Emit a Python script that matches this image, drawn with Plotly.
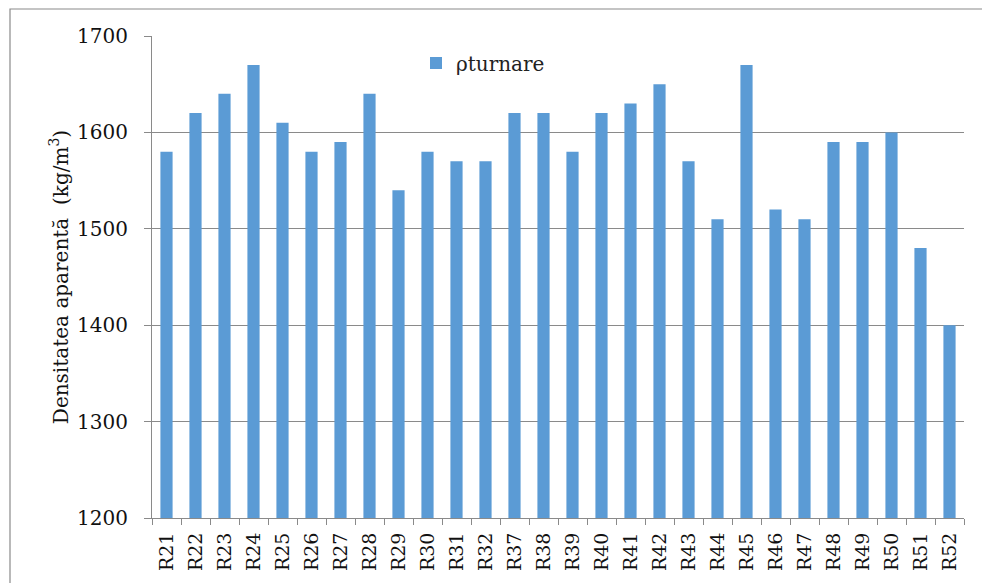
import plotly.graph_objects as go

# Apparent density per sample
samples = ["R21", "R22", "R23", "R24", "R25", "R26", "R27", "R28", "R29", "R30",
           "R31", "R32", "R37", "R38", "R39", "R40", "R41", "R42", "R43", "R44",
           "R45", "R46", "R47", "R48", "R49", "R50", "R51", "R52"]
rho_turnare = [1580, 1620, 1640, 1670, 1610, 1580, 1590, 1640, 1540, 1580,
               1570, 1570, 1620, 1620, 1580, 1620, 1630, 1650, 1570, 1510,
               1670, 1520, 1510, 1590, 1590, 1600, 1480, 1400]
y_ticks = [1200, 1300, 1400, 1500, 1600, 1700]

W, H = 982, 583
L, R, T, B = 152, 18, 36, 65
pw, ph = W - L - R, H - T - B

serif = "DejaVu Serif, serif"

fig = go.Figure(go.Bar(
    x=samples, y=rho_turnare, name="ρturnare",
    marker=dict(color="#5B9BD5", line=dict(width=0)),
    showlegend=True,
))


def px_x(p):
    return (p - L) / pw


def px_y(p):
    return (H - B - p) / ph


# outer chart frame
fig.add_shape(type="rect", xref="paper", yref="paper",
              x0=px_x(10), x1=px_x(990), y0=px_y(595), y1=px_y(9),
              line=dict(color="#8a8a8a", width=1.2), layer="below")

fig.update_layout(
    width=W, height=H,
    margin=dict(l=L, r=R, t=T, b=B),
    paper_bgcolor="white", plot_bgcolor="white",
    bargap=0.58,
    font=dict(family=serif, color="#222222"),
    legend=dict(x=px_x(416), y=px_y(63), xanchor="left", yanchor="middle",
                font=dict(size=20, family=serif, color="#222"),
                bgcolor="rgba(0,0,0,0)", itemwidth=30),
    xaxis=dict(
        type="category", tickangle=-90,
        tickfont=dict(size=19, family=serif, color="#111"),
        showline=True, linecolor="#8a8a8a", linewidth=1,
        ticks="outside", ticklen=6, tickcolor="#8a8a8a", tickson="boundaries",
        showgrid=False, ticklabelstandoff=6,
    ),
    yaxis=dict(
        range=[1200, 1700], tickvals=y_ticks,
        tickfont=dict(size=20, family=serif, color="#111"),
        showline=True, linecolor="#8a8a8a", linewidth=1,
        ticks="outside", ticklen=7, tickcolor="#8a8a8a",
        ticklabelstandoff=12,
        showgrid=True, gridcolor="#8a8a8a", gridwidth=1,
        zeroline=False,
        title=dict(text="Densitatea aparentă  (kg/m<sup>3</sup>)",
                   font=dict(size=20, family=serif, color="#111"), standoff=3),
    ),
)

fig.write_html("out.html")
